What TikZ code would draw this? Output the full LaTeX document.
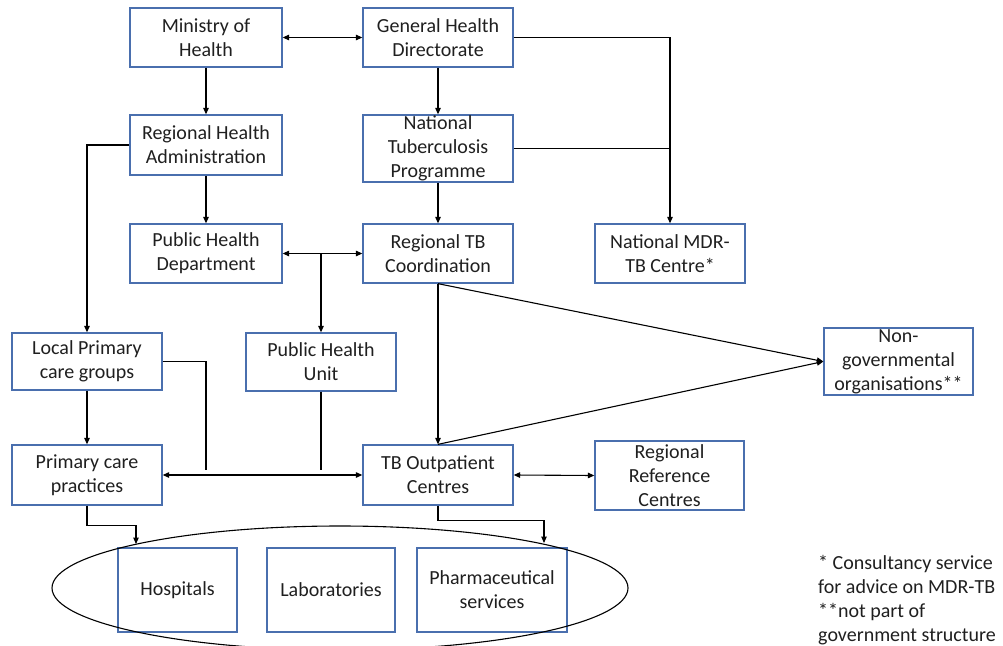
\documentclass[tikz,border=0pt]{standalone}
\usepackage{fontspec}
\setmainfont{Carlito}
\usetikzlibrary{arrows.meta,shapes.geometric}
\definecolor{boxblue}{HTML}{4A6FAE}
\definecolor{inkgray}{HTML}{1F1F1F}
\tikzset{
  box/.style 2 args={draw=boxblue, line width=1.3pt, align=center, inner sep=0pt,
    text=inkgray, font=\fontsize{20}{24}\selectfont,
    minimum width=#1pt, minimum height=#2pt},
  tip/.style={Triangle[length=6.5pt,width=5.5pt]},
  plain/.style={draw=black, line width=1.1pt},
  link/.style={plain, -{Triangle[length=6.5pt,width=5.5pt]}},
  both/.style={plain, {Triangle[length=6.5pt,width=5.5pt]}-{Triangle[length=6.5pt,width=5.5pt]}},
}
\begin{document}
\begin{tikzpicture}[x=1pt,y=-1pt]
\useasboundingbox (0,0) rectangle (1003,645);

% top levels
\node[box={152}{59}] (moh)  at (206,37.5)  {Ministry of\\Health};
\node[box={150}{59}] (ghd)  at (438,37.5)  {General Health\\Directorate};
\node[box={152}{60}] (rha)  at (206,145)   {Regional Health\\Administration};
\node[box={150}{67}] (ntp)  at (438,148.5) {National\\Tuberculosis\\Programme};
\node[box={152}{59}] (phd)  at (206,253.5) {Public Health\\Department};
\node[box={150}{59}] (rtbc) at (438,253.5) {Regional TB\\Coordination};
\node[box={150}{59}] (mdr)  at (670,253.5) {National MDR-\\TB Centre*};

% middle levels
\node[box={150}{57}] (lpcg) at (87,361.5)  {Local Primary\\care groups};
\node[box={150}{58}] (phu)  at (321,362)   {Public Health\\Unit};
\node[box={149}{67}] (ngo)  at (898.5,361.5) {Non-\\governmental\\organisations**};
\node[box={150}{60}] (pcp)  at (87,475)    {Primary care\\practices};
\node[box={150}{60}] (tbo)  at (438,475)   {TB Outpatient\\Centres};
\node[box={149}{69}] (rrc)  at (669.5,475.5) {Regional\\Reference\\Centres};

% service pool
\node[box={119}{84}] (hosp)  at (177.5,590) {Hospitals};
\node[box={128}{84}] (lab)   at (331,590)   {Laboratories};
\node[box={150}{84}] (pharm) at (492,590)   {Pharmaceutical\\services};
\begin{scope}
  \clip (0,0) rectangle (1003,645);
  \node[ellipse, draw=black, line width=1.1pt, inner sep=0pt,
        minimum width=576pt, minimum height=124pt] (pool) at (340,588) {};
\end{scope}
\coordinate (hospin)  at (136,544);
\coordinate (pharmin) at (544,543);

% connectors
\draw[both] (moh.east) -- (ghd.west);
\draw[link] (moh) -- (rha);
\draw[link] (ghd) -- (ntp);
\draw[link] (ghd.east) -| (mdr.north);
\draw[plain] (ntp.east) -- (ntp.east -| mdr.north);
\draw[link] (rha.west) -| (lpcg.north);
\draw[link] (rha) -- (phd);
\draw[link] (ntp) -- (rtbc);
\draw[both] (phd.east) -- (rtbc.west);
\draw[link] (phd.east -| phu.north) -- (phu.north);
\draw[link] (rtbc.south) -- (tbo.north);
\draw[link] (rtbc.south) -- (ngo.west);
\draw[link] (tbo.north) -- (ngo.west);
\draw[link] (lpcg) -- (pcp);
\coordinate (lpend) at (206,470);
\draw[plain] (lpcg.east) -| (lpend);
\draw[plain] (phu.south) -- (phu.south |- lpend);
\draw[both] (pcp.east) -- (tbo.west);
\draw[both] (tbo.east) -- (rrc.west -| rrc.west) ;
\draw[link] (pcp.south) -- ++(0,20) -| (hospin);
\draw[link] (tbo.south) -- ++(0,15) -| (pharmin);

% footnotes
\node[anchor=north west, align=left, inner sep=0pt, text=inkgray,
      font=\fontsize{20}{24}\selectfont] (note) at (818,555)
  {* Consultancy service\\for advice on MDR-TB\\**not part of\\government structure};
\end{tikzpicture}
\end{document}
